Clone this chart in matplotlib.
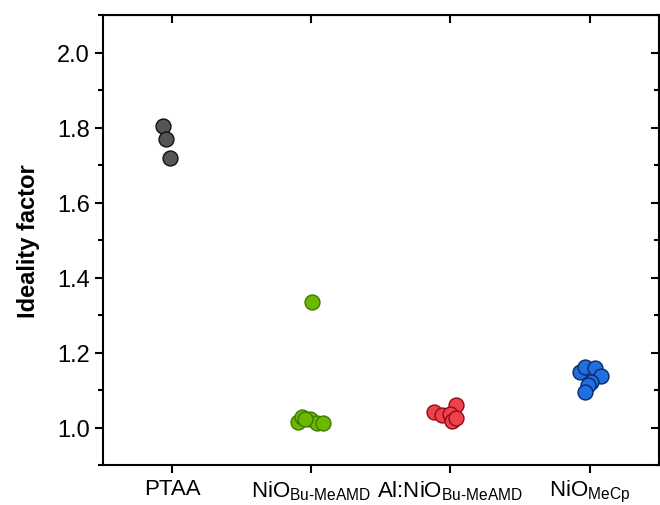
import numpy as np
import matplotlib.pyplot as plt
from matplotlib.ticker import MultipleLocator

plt.rcParams['font.family'] = ['Liberation Sans', 'DejaVu Sans']
plt.rcParams['mathtext.fontset'] = 'custom'
plt.rcParams['mathtext.rm'] = 'Liberation Sans'
plt.rcParams['mathtext.it'] = 'Liberation Sans'

labels = ['PTAA', r'NiO$_{\text{Bu-MeAMD}}$', r'Al:NiO$_{\text{Bu-MeAMD}}$', r'NiO$_{\text{MeCp}}$']

# ideality factor per device, with x jitter
ptaa_x = [0.93, 0.95, 0.98]
ptaa_y = [1.805, 1.77, 1.719]
nio_x = [2.007, 1.90, 1.93, 1.99, 2.04, 2.08, 1.95]
nio_y = [1.335, 1.015, 1.028, 1.023, 1.012, 1.012, 1.024]
alnio_x = [2.88, 2.94, 3.04, 3.00, 3.01, 3.04]
alnio_y = [1.041, 1.033, 1.060, 1.036, 1.017, 1.025]
mecp_x = [3.93, 3.97, 4.04, 4.08, 4.01, 3.99, 3.97]
mecp_y = [1.148, 1.161, 1.159, 1.137, 1.121, 1.113, 1.095]

fig = plt.figure(figsize=(6.6, 5.06), dpi=100)
ax = fig.add_axes([0.156, 0.079, 0.8425, 0.889])

ax.scatter(ptaa_x, ptaa_y, s=115, c='#555555', edgecolors='#111111', linewidths=1.0, zorder=3)
ax.scatter(nio_x, nio_y, s=115, c='#6cb800', edgecolors='#3f7a00', linewidths=1.0, zorder=3)
ax.scatter(alnio_x, alnio_y, s=115, c='#f0404c', edgecolors='#8a1018', linewidths=1.0, zorder=3)
ax.scatter(mecp_x, mecp_y, s=115, c='#1f6fe0', edgecolors='#0a2a6a', linewidths=1.0, zorder=3)

ax.set_xlim(0.5, 4.5)
ax.set_ylim(0.9, 2.1)
ax.set_xticks([1, 2, 3, 4])
ax.set_xticklabels(labels, fontsize=16)
ax.yaxis.set_major_locator(MultipleLocator(0.2))
ax.yaxis.set_minor_locator(MultipleLocator(0.1))
ax.set_yticks([1.0, 1.2, 1.4, 1.6, 1.8, 2.0])
ax.tick_params(axis='y', labelsize=17)
ax.set_ylabel('Ideality factor', fontsize=17, fontweight='bold', labelpad=12)

for s in ax.spines.values():
    s.set_linewidth(1.5)

ax.tick_params(which='major', length=6, width=1.5)
ax.tick_params(which='minor', length=3.5, width=1.5)
ax.tick_params(axis='x', which='both', direction='out', top=False)
ax.tick_params(axis='y', which='both', direction='out', right=False)

# mirrored inward ticks on top and right
axt = ax.secondary_xaxis('top')
axt.set_xticks([1, 2, 3, 4])
axt.tick_params(direction='in', length=6, width=1.5, labeltop=False)
axr = ax.secondary_yaxis('right')
axr.yaxis.set_major_locator(MultipleLocator(0.2))
axr.yaxis.set_minor_locator(MultipleLocator(0.1))
axr.tick_params(which='major', direction='in', length=6, width=1.5, labelright=False)
axr.tick_params(which='minor', direction='in', length=3.5, width=1.5)

plt.savefig('out.png', dpi=100)
plt.close('all')
